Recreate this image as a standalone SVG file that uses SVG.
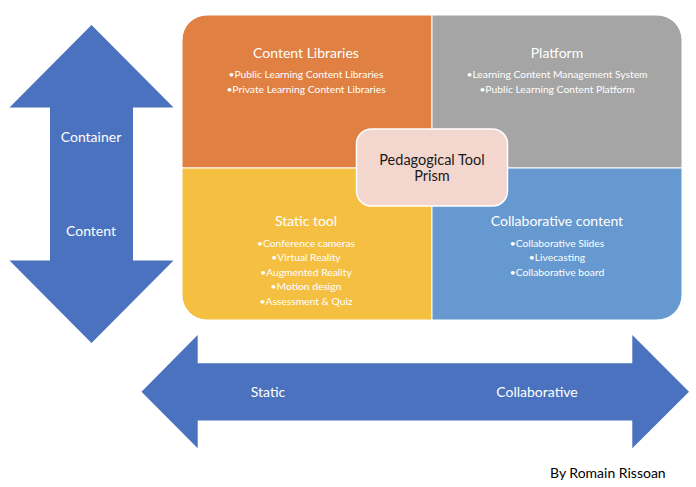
<svg xmlns="http://www.w3.org/2000/svg" width="696" height="487" viewBox="0 0 696 487">
<style>
text { font-family: Lato, "Liberation Sans", sans-serif; }
.arrow { fill: #4A72BE; }
.axis { fill: #FFFFFF; font-size: 14px; }
.title { fill: #FFFFFF; font-size: 14px; text-anchor: middle; }
.item { fill: #FFFFFF; font-size: 10.3px; text-anchor: middle; }
.quad { stroke: #FFFFFF; stroke-width: 1; }
</style>
<rect width="696" height="487" fill="#FFFFFF"/>
<g id="axes">
  <g id="vertical-arrow">
    <polygon class="arrow" points="91.5,25 173.5,107.5 133,107.5 133,260.5 173.5,260.5 91.5,343 9.5,260.5 50,260.5 50,107.5 9.5,107.5"/>
    <text class="axis" x="91" y="142" text-anchor="middle">Container</text>
    <text class="axis" x="91" y="235.5" text-anchor="middle">Content</text>
  </g>
  <g id="horizontal-arrow">
    <polygon class="arrow" points="141.5,391.7 197.7,335 197.7,363.3 632.3,363.3 632.3,335 689,391.7 632.3,448.3 632.3,420.5 197.7,420.5 197.7,448.3"/>
    <text class="axis" x="268" y="397" text-anchor="middle">Static</text>
    <text class="axis" x="537" y="397" text-anchor="middle">Collaborative</text>
  </g>
</g>
<g id="content-libraries">
  <path class="quad" fill="#E08043" d="M182,168 V40 A25,25 0 0 1 207,15 H432 V168 Z"/>
  <text class="title" x="306" y="58">Content Libraries</text>
  <text class="item" x="306" y="77.5">•Public Learning Content Libraries</text>
  <text class="item" x="306" y="92.5">•Private Learning Content Libraries</text>
</g>
<g id="platform">
  <path class="quad" fill="#A5A5A5" d="M432,15 H657 A25,25 0 0 1 682,40 V168 H432 Z"/>
  <text class="title" x="557" y="58">Platform</text>
  <text class="item" x="557" y="77.5">•Learning Content Management System</text>
  <text class="item" x="557" y="92.5">•Public Learning Content Platform</text>
</g>
<g id="static-tool">
  <path class="quad" fill="#F5BF42" d="M182,168 H432 V320 H207 A25,25 0 0 1 182,295 Z"/>
  <text class="title" x="306" y="226">Static tool</text>
  <text class="item" x="306" y="246.5">•Conference cameras</text>
  <text class="item" x="306" y="261">•Virtual Reality</text>
  <text class="item" x="306" y="275.5">•Augmented Reality</text>
  <text class="item" x="306" y="290">•Motion design</text>
  <text class="item" x="306" y="304.5">•Assessment &amp; Quiz</text>
</g>
<g id="collaborative-content">
  <path class="quad" fill="#6699CF" d="M432,168 H682 V295 A25,25 0 0 1 657,320 H432 Z"/>
  <text class="title" x="557" y="226">Collaborative content</text>
  <text class="item" x="557" y="246.5">•Collaborative Slides</text>
  <text class="item" x="557" y="261">•Livecasting</text>
  <text class="item" x="557" y="275.5">•Collaborative board</text>
</g>
<g id="prism">
  <rect x="356.5" y="129" width="151" height="77" rx="15" fill="#F3D6CD" stroke="#FFFFFF" stroke-width="1.5"/>
  <text x="432" y="164.5" font-size="14.5" fill="#1A1A1A" text-anchor="middle">Pedagogical Tool</text>
  <text x="432" y="180.5" font-size="14.5" fill="#1A1A1A" text-anchor="middle">Prism</text>
</g>
<g id="credit">
  <text x="550" y="477.5" font-size="14" fill="#000000">By Romain Rissoan</text>
</g>
</svg>
